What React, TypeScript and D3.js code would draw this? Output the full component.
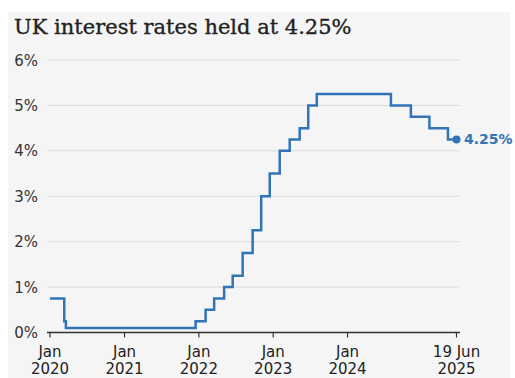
import React from "react";
import * as d3 from "d3";

const changeDates: string[] = [
  "2020-01-01", "2020-03-11", "2020-03-19", "2021-12-16", "2022-02-03", "2022-03-17",
  "2022-05-05", "2022-06-16", "2022-08-04", "2022-09-22", "2022-11-03", "2022-12-15",
  "2023-02-02", "2023-03-23", "2023-05-11", "2023-06-22", "2023-08-03", "2024-08-01",
  "2024-11-07", "2025-02-06", "2025-05-08", "2025-06-19",
];
const rates: number[] = [
  0.75, 0.25, 0.1, 0.25, 0.5, 0.75, 1.0, 1.25, 1.75, 2.25, 3.0, 3.5,
  4.0, 4.25, 4.5, 5.0, 5.25, 5.0, 4.75, 4.5, 4.25, 4.25,
];
const yTicks: number[] = [0, 1, 2, 3, 4, 5, 6];
const xTickDates: string[] = ["2020-01-01", "2021-01-01", "2022-01-01", "2023-01-01", "2024-01-01", "2025-06-19"];
const xTickLabels: [string, string][] = [
  ["Jan", "2020"], ["Jan", "2021"], ["Jan", "2022"], ["Jan", "2023"], ["Jan", "2024"], ["19 Jun", "2025"],
];
const title = "UK interest rates held at 4.25%";
const endLabel = "4.25%";

const W = 515, H = 378;
const BLUE = "#3174b8";

export default function App() {
  const parse = d3.utcParse("%Y-%m-%d");
  const data = changeDates.map((d, i) => ({ date: parse(d)!, v: rates[i] }));
  const x = d3.scaleUtc().domain([parse("2020-01-01")!, parse("2025-06-19")!]).range([50, 456.5]);
  const y = d3.scaleLinear().domain([0, 6]).range([332.5, 60]);
  const line = d3.line<{ date: Date; v: number }>()
    .x((d) => x(d.date))
    .y((d) => y(d.v))
    .curve(d3.curveStepAfter);
  const last = data[data.length - 1];
  const sans = "'DejaVu Sans', sans-serif";
  return (
    <svg width={W} height={H} style={{ position: "absolute", left: 0, top: 0 }}>
      <rect x={8} y={12} width={502} height={H - 12} fill="#f5f5f5" />
      <text x={14} y={34} fontFamily="'DejaVu Serif', serif" fontSize={21} fill="#222" stroke="#222" strokeWidth={0.35}>{title}</text>
      {yTicks.map((t) => (
        <g key={t}>
          {t > 0 && <line x1={47} x2={460} y1={y(t)} y2={y(t)} stroke="#dcdcdc" strokeWidth={1} />}
          <text x={38} y={y(t) + 5.5} textAnchor="end" fontFamily={sans} fontSize={15} fill="#333">{t}%</text>
        </g>
      ))}
      <path d={line(data)!} fill="none" stroke={BLUE} strokeWidth={2.5} strokeLinejoin="miter" />
      <line x1={47} x2={460} y1={y(0)} y2={y(0)} stroke="#333" strokeWidth={1.5} />
      {xTickDates.map((d, i) => {
        const xx = x(parse(d)!);
        return (
          <g key={d}>
            <line x1={xx} x2={xx} y1={y(0)} y2={y(0) + 5} stroke="#333" strokeWidth={1.2} />
            <text x={xx} y={357} textAnchor="middle" fontFamily={sans} fontSize={15} fill="#222">{xTickLabels[i][0]}</text>
            <text x={xx} y={374} textAnchor="middle" fontFamily={sans} fontSize={15} fill="#222">{xTickLabels[i][1]}</text>
          </g>
        );
      })}
      <circle cx={x(last.date)} cy={y(last.v)} r={4} fill={BLUE} />
      <text x={464} y={y(last.v) + 5} fontFamily={sans} fontSize={14} fontWeight="bold" fill={BLUE}>{endLabel}</text>
    </svg>
  );
}
